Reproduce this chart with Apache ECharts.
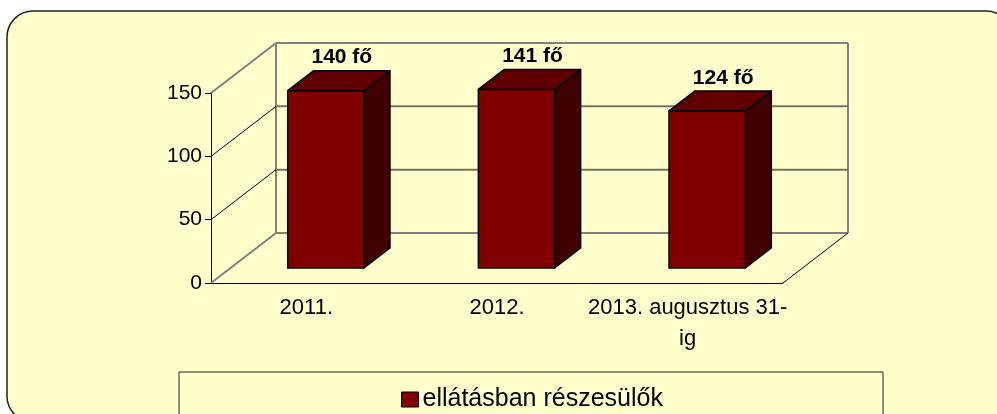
<!DOCTYPE html>
<html>
<head>
<meta charset="utf-8">
<script src="https://cdn.jsdelivr.net/npm/echarts@6/dist/echarts.min.js"></script>
<style>
  html, body { margin: 0; padding: 0; background: #fff; }
  #chart { width: 997px; height: 414px; }
</style>
</head>
<body>
<div id="chart"></div>
<script>
// adatok
const categories = ['2011.', '2012.', '2013. augusztus 31-\nig'];
const values = [140, 141, 124];
const valueLabels = ['140 fő', '141 fő', '124 fő'];
const yTicks = [0, 50, 100, 150];
const seriesName = 'ellátásban részesülők';

// 3D hatás: a hátsó fal eltolása pixelben
const DEPTH_X = 65;
const DEPTH_Y = -50;
const BAR_FRONT = 0.3; // oszlop elülső lapja a mélység 30%-ánál
const BAR_DEPTH = 0.4;
const BAR_WIDTH = 0.4; // kategóriaszélesség arányában

const FONT = '"Liberation Sans", Arial, sans-serif';

const chart = echarts.init(document.getElementById('chart'));

// falak és rácsvonalak
function renderWalls(params, api) {
  const v = api.value(1);
  const cs = params.coordSys;
  const left = cs.x;
  const right = cs.x + cs.width;
  const y = api.coord([0, v])[1];
  const edge = v === yTicks[0] || v === yTicks[yTicks.length - 1];
  const children = [
    {
      type: 'line',
      shape: { x1: left, y1: y, x2: left + DEPTH_X, y2: y + DEPTH_Y },
      style: edge ? { stroke: '#808080', lineWidth: 2 } : { stroke: '#000', lineWidth: 1 }
    },
    {
      type: 'line',
      shape: { x1: left + DEPTH_X, y1: y + DEPTH_Y, x2: right + DEPTH_X, y2: y + DEPTH_Y },
      style: { stroke: edge ? '#808080' : '#737366', lineWidth: 2 }
    }
  ];
  if (params.dataIndex === 0) {
    const top = api.coord([0, yTicks[yTicks.length - 1]])[1];
    children.push(
      {
        type: 'line',
        shape: { x1: left + DEPTH_X, y1: top + DEPTH_Y, x2: left + DEPTH_X, y2: y + DEPTH_Y },
        style: { stroke: '#808080', lineWidth: 2 }
      },
      {
        type: 'line',
        shape: { x1: right + DEPTH_X, y1: top + DEPTH_Y, x2: right + DEPTH_X, y2: y + DEPTH_Y },
        style: { stroke: '#808080', lineWidth: 2 }
      },
      {
        type: 'line',
        shape: { x1: right, y1: y, x2: right + DEPTH_X, y2: y + DEPTH_Y },
        style: { stroke: '#000', lineWidth: 1 }
      }
    );
  }
  return { type: 'group', children: children };
}

// oszlopok
function renderBar(params, api) {
  const idx = api.value(0);
  const base = api.coord([idx, 0]);
  const top = api.coord([idx, api.value(1)]);
  const band = api.size([1, 0])[0];
  const hw = band * BAR_WIDTH / 2;
  const ox = DEPTH_X * BAR_FRONT, oy = DEPTH_Y * BAR_FRONT;
  const dx = DEPTH_X * BAR_DEPTH, dy = DEPTH_Y * BAR_DEPTH;
  const x0 = base[0] - hw + ox, x1 = base[0] + hw + ox;
  const yb = base[1] + oy, yt = top[1] + oy;
  const edge = { stroke: '#000', lineWidth: 1.5, lineJoin: 'round' };
  return {
    type: 'group',
    children: [
      {
        type: 'polygon',
        shape: { points: [[x1, yt], [x1, yb], [x1 + dx, yb + dy], [x1 + dx, yt + dy]] },
        style: Object.assign({ fill: '#400000' }, edge)
      },
      {
        type: 'polygon',
        shape: { points: [[x0, yt], [x1, yt], [x1 + dx, yt + dy], [x0 + dx, yt + dy]] },
        style: Object.assign({ fill: '#600000' }, edge)
      },
      {
        type: 'rect',
        shape: { x: x0, y: yt, width: x1 - x0, height: yb - yt },
        style: Object.assign({ fill: '#800000' }, edge)
      },
      {
        type: 'text',
        x: base[0] + ox + 16,
        y: yt + dy - 13,
        style: {
          text: valueLabels[params.dataIndex],
          fill: '#000',
          font: 'bold 21px ' + FONT,
          align: 'center',
          verticalAlign: 'middle'
        }
      }
    ]
  };
}

const option = {
  animation: false,
  graphic: [
    {
      type: 'rect',
      z: -1,
      shape: { x: 7, y: 11, width: 1005, height: 411, r: 26 },
      style: { fill: '#FFFFCC', stroke: '#222', lineWidth: 1.5 }
    },
    {
      type: 'rect',
      z: 1,
      shape: { x: 179, y: 372, width: 704, height: 60 },
      style: { fill: '#FFFFCC', stroke: '#222', lineWidth: 1 }
    }
  ],
  grid: { left: 211, right: 214, top: 93, bottom: 131, containLabel: false },
  legend: {
    data: [{ name: seriesName, icon: 'rect' }],
    left: 401,
    top: 387,
    padding: 0,
    itemWidth: 17,
    itemHeight: 15,
    itemGap: 10,
    itemStyle: { color: '#800000', borderColor: '#000', borderWidth: 1 },
    textStyle: { fontFamily: FONT, fontSize: 25, color: '#000', padding: [0, 0, 0, -1] }
  },
  xAxis: {
    type: 'category',
    data: categories,
    axisLine: { lineStyle: { color: '#000', width: 1 } },
    axisTick: { length: 4, lineStyle: { color: '#000' } },
    axisLabel: {
      interval: 0,
      color: '#000',
      fontFamily: FONT,
      fontSize: 22,
      lineHeight: 31,
      margin: 9
    }
  },
  yAxis: {
    type: 'value',
    min: 0,
    max: 150,
    interval: 50,
    splitLine: { show: false },
    axisLine: { show: true, lineStyle: { color: '#000', width: 1 } },
    axisTick: { show: true, length: 6, lineStyle: { color: '#000' } },
    axisLabel: { color: '#000', fontFamily: FONT, fontSize: 21, margin: 9 }
  },
  series: [
    {
      type: 'custom',
      name: 'walls',
      renderItem: renderWalls,
      clip: false,
      silent: true,
      z: 1,
      encode: { x: 0, y: 1 },
      data: yTicks.map(v => [0, v])
    },
    {
      type: 'custom',
      name: seriesName,
      renderItem: renderBar,
      clip: false,
      z: 3,
      itemStyle: { color: '#800000', borderColor: '#000', borderWidth: 1 },
      encode: { x: 0, y: 1 },
      data: values.map((v, i) => [i, v])
    }
  ]
};

chart.setOption(option);
</script>
</body>
</html>
